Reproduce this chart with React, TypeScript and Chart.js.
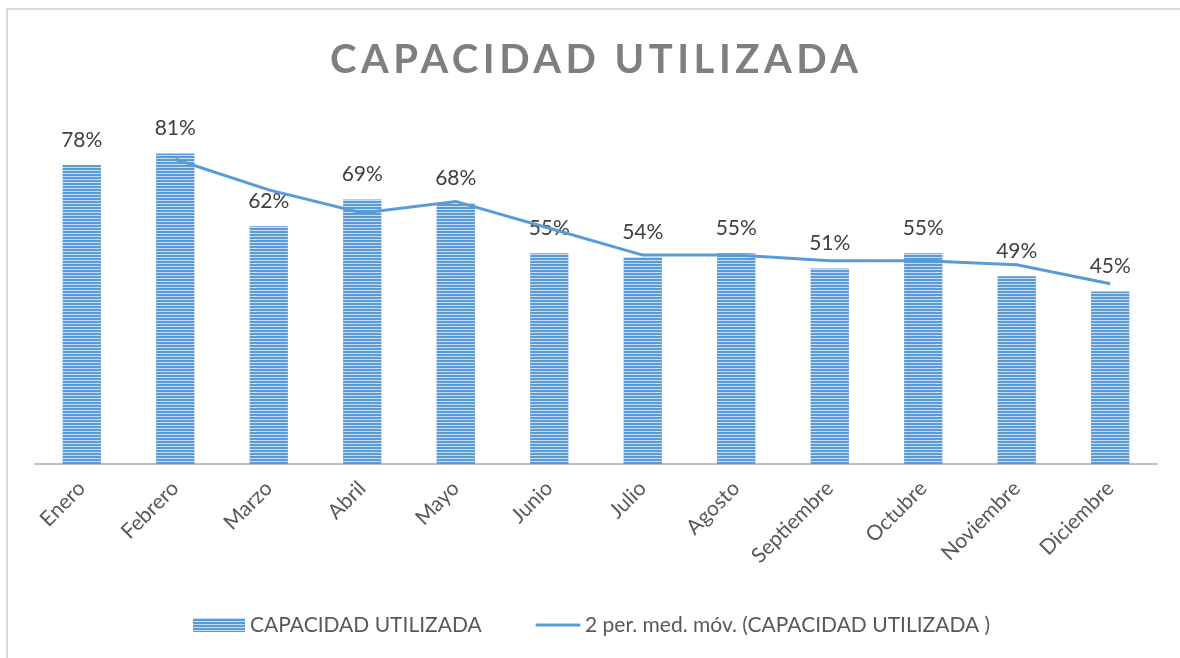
import React, { useEffect, useRef } from "react";
import { Chart, registerables } from "chart.js";

Chart.register(...registerables);

const TITLE = "CAPACIDAD UTILIZADA";
const MONTHS = ["Enero", "Febrero", "Marzo", "Abril", "Mayo", "Junio", "Julio", "Agosto", "Septiembre", "Octubre", "Noviembre", "Diciembre"];
const CAPACITY = [0.78, 0.81, 0.62, 0.69, 0.68, 0.55, 0.54, 0.55, 0.51, 0.55, 0.49, 0.45];
const MOVING_AVG = [null, 0.795, 0.715, 0.655, 0.685, 0.615, 0.545, 0.545, 0.53, 0.53, 0.52, 0.47];
const BAR_LEGEND = "CAPACIDAD UTILIZADA";
const LINE_LEGEND = "2 per. med. móv. (CAPACIDAD UTILIZADA )";

const BLUE = "#5B9BD5";
const FONT = "Lato";

function makePattern(): CanvasPattern | string {
  const c = document.createElement("canvas");
  c.width = 4;
  c.height = 3;
  const g = c.getContext("2d");
  if (!g) return BLUE;
  g.fillStyle = "#C9DDF2";
  g.fillRect(0, 0, 4, 3);
  g.fillStyle = BLUE;
  g.fillRect(0, 0, 4, 2);
  return g.createPattern(c, "repeat") || BLUE;
}

export default function App() {
  const ref = useRef<HTMLCanvasElement | null>(null);

  useEffect(() => {
    const canvas = ref.current;
    if (!canvas) return;
    const pattern = makePattern();

    const decor = {
      id: "decor",
      beforeDraw(chart: any) {
        const ctx = chart.ctx;
        ctx.save();
        ctx.fillStyle = "#FFFFFF";
        ctx.fillRect(0, 0, chart.width, chart.height);
        ctx.strokeStyle = "#D9D9D9";
        ctx.lineWidth = 2;
        ctx.beginPath();
        ctx.moveTo(7, chart.height);
        ctx.lineTo(7, 9);
        ctx.lineTo(chart.width, 9);
        ctx.stroke();
        // title
        ctx.font = `bold 40px ${FONT}`;
        ctx.fillStyle = "#7F7F7F";
        ctx.textBaseline = "alphabetic";
        ctx.textAlign = "left";
        const target = 528;
        const w0 = ctx.measureText(TITLE).width;
        const ls = (target - w0) / (TITLE.length - 1);
        (ctx as any).letterSpacing = `${ls}px`;
        ctx.fillText(TITLE, 330, 73);
        (ctx as any).letterSpacing = "0px";
        // legend
        const ly = 625;
        ctx.fillStyle = pattern as any;
        ctx.save();
        ctx.translate(0, 1);
        ctx.fillRect(193, ly - 8, 52, 14);
        ctx.restore();
        ctx.font = `21px ${FONT}`;
        ctx.fillStyle = "#595959";
        ctx.textBaseline = "middle";
        ctx.fillText(BAR_LEGEND, 250, ly);
        ctx.strokeStyle = BLUE;
        ctx.lineWidth = 3;
        ctx.lineCap = "round";
        ctx.beginPath();
        ctx.moveTo(537, ly);
        ctx.lineTo(579, ly);
        ctx.stroke();
        ctx.fillText(LINE_LEGEND, 585, ly);
        ctx.restore();
      },
      afterDatasetDraw(chart: any, args: any) {
        if (args.index !== 0) return;
        const ctx = chart.ctx;
        const meta = chart.getDatasetMeta(0);
        ctx.save();
        ctx.font = `21px ${FONT}`;
        ctx.fillStyle = "#404040";
        ctx.textAlign = "center";
        ctx.textBaseline = "middle";
        meta.data.forEach((el: any, i: number) => {
          ctx.fillText(Math.round(CAPACITY[i] * 100) + "%", el.x, el.y - 25);
        });
        ctx.restore();
      },
    };

    const chart = new Chart(canvas, {
      data: {
        labels: MONTHS,
        datasets: [
          {
            type: "bar",
            label: BAR_LEGEND,
            data: CAPACITY,
            backgroundColor: pattern as any,
            borderWidth: 0,
            barPercentage: 0.41,
            categoryPercentage: 1,
            order: 2,
          },
          {
            type: "line",
            label: LINE_LEGEND,
            data: MOVING_AVG as any,
            borderColor: BLUE,
            borderWidth: 3,
            pointRadius: 0,
            tension: 0,
            fill: false,
            order: 1,
          },
        ],
      } as any,
      options: {
        responsive: false,
        animation: false,
        layout: { padding: { left: 35, right: 23, top: 119, bottom: 0 } },
        plugins: {
          legend: { display: false },
          title: { display: false },
          tooltip: { enabled: false },
        },
        scales: {
          x: {
            grid: { display: false, drawTicks: false },
            border: { display: true, color: "#BFBFBF", width: 2 },
            ticks: {
              color: "#595959",
              font: { family: FONT, size: 21 },
              maxRotation: 45,
              minRotation: 45,
              padding: 12,
              autoSkip: false,
            },
            afterFit(scale: any) {
              scale.height = 194;
            },
          },
          y: {
            display: false,
            min: 0,
            max: 0.9,
          },
        },
      } as any,
      plugins: [decor],
    });
    return () => chart.destroy();
  }, []);

  return (
    <div style={{ position: "absolute", left: 0, top: 0, width: 1180, height: 658 }}>
      <canvas ref={ref} width={1180} height={658} style={{ display: "block" }} />
    </div>
  );
}
